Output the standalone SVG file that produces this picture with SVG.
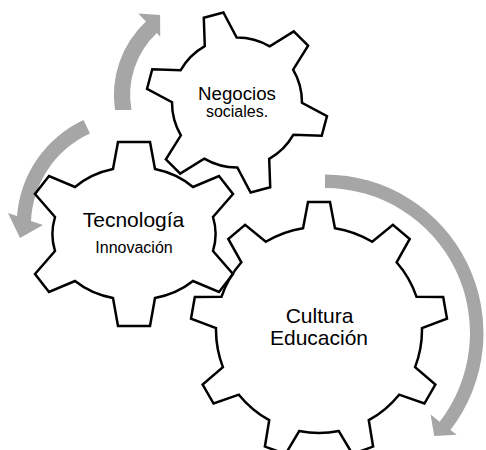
<svg xmlns="http://www.w3.org/2000/svg" width="486" height="450" viewBox="0 0 486 450">
  <style>
    .arrow { fill: #a6a6a6; stroke: none; }
    .gear { fill: none; stroke: #000000; stroke-width: 2.5; stroke-linejoin: miter; }
    .label { font-family: "Liberation Sans", Arial, sans-serif; fill: #000000; text-anchor: middle; }
  </style>
  <rect x="0" y="0" width="486" height="450" fill="#ffffff"/>

  <!-- circular arrows -->
  <g id="connectors">
    <path class="arrow" d="M115,110 A101,101 0 0 1 145.9,21.4 L138.3,13.4 L160.1,15.1 L160.2,36.7 L156.8,33 A85,85 0 0 0 131.5,110 Z"/>
    <path class="arrow" d="M83.5,120 A115.5,115.5 0 0 0 17,216 L8,213 L20,238 L43,225 L31,221 A101,101 0 0 1 90,133.5 Z"/>
    <path class="arrow" d="M325,174.5 A158.5,158.5 0 0 1 450.4,429.9 L456.7,434.8 L434.2,435.9 L430.6,414.6 L439.7,421.7 A145,145 0 0 0 325,188 Z"/>
  </g>

  <!-- six-tooth gear, left -->
  <g id="tecnologia">
    <path class="gear" d="M118,142 L150,142 L155,169 A81,68 0 0 1 193,187 L219,176 L233,194 L213,217 A81,68 0 0 1 213,251 L233,274 L219,292 L193,281 A81,68 0 0 1 155,298 L150,326 L118,326 L113,298 A81,68 0 0 1 75,281 L49,292 L35,274 L55,251 A81,68 0 0 1 55,217 L35,194 L49,176 L75,187 A81,68 0 0 1 113,169 Z"/>
    <text class="label" x="133.5" y="227" font-size="21">Tecnología</text>
    <text class="label" x="134" y="253" font-size="16">Innovación</text>
  </g>

  <!-- six-tooth gear, top (rotated) -->
  <g id="negocios">
    <path class="gear" d="M203.79,17.77 L223.4,12.52 L236.66,37.5 A65,65 0 0 1 269.79,46.38 L293.77,31.38 L308.12,45.73 L293.12,69.71 A65,65 0 0 1 302,102.84 L326.98,116.1 L321.73,135.71 L293.46,134.71 A65,65 0 0 1 269.21,158.96 L270.21,187.23 L250.6,192.48 L237.34,167.5 A65,65 0 0 1 204.21,158.62 L180.23,173.62 L165.88,159.27 L180.88,135.29 A65,65 0 0 1 172,102.16 L147.02,88.9 L152.27,69.29 L180.54,70.29 A65,65 0 0 1 204.79,46.04 Z"/>
    <text class="label" x="237" y="100" font-size="18.7">Negocios</text>
    <text class="label" x="237" y="117" font-size="16">sociales.</text>
  </g>

  <!-- nine-tooth gear, large -->
  <g id="cultura">
    <path class="gear" d="M308.02,201.97 L329.98,201.97 L334.94,228.23 A103,103 0 0 1 372.2,241.8 L392.89,224.87 L409.71,238.98 L396.62,262.29 A103,103 0 0 1 416.45,296.64 L443.18,296.96 L446.99,318.58 L421.98,328.02 A103,103 0 0 1 415.1,367.08 L435.37,384.51 L424.4,403.51 L399.15,394.68 A103,103 0 0 1 368.78,420.18 L373.1,446.55 L352.47,454.07 L338.83,431.07 A103,103 0 0 1 299.17,431.07 L285.53,454.07 L264.9,446.55 L269.22,420.18 A103,103 0 0 1 238.85,394.68 L213.6,403.51 L202.63,384.51 L222.9,367.08 A103,103 0 0 1 216.02,328.02 L191.01,318.58 L194.82,296.96 L221.55,296.64 A103,103 0 0 1 241.38,262.29 L228.29,238.98 L245.11,224.87 L265.8,241.8 A103,103 0 0 1 303.06,228.23 Z"/>
    <text class="label" x="319.5" y="323" font-size="21">Cultura</text>
    <text class="label" x="319" y="345" font-size="21">Educación</text>
  </g>
</svg>
